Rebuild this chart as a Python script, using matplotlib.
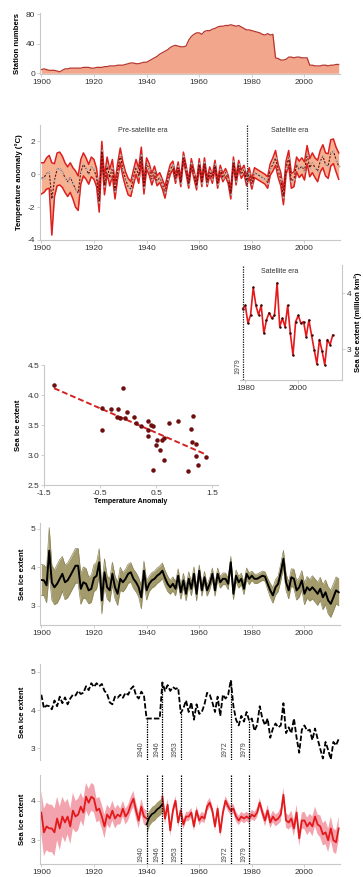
import numpy as np
import matplotlib
matplotlib.use("Agg")
import matplotlib.pyplot as plt

plt.rcParams['font.family'] = ['Liberation Sans', 'DejaVu Sans']
plt.rcParams['axes.unicode_minus'] = False

# %% data
years = np.arange(1900, 2014)

station_counts = [
    5, 6, 5, 4, 4, 4, 3, 2, 4, 6,
    6, 7, 7, 7, 7, 7, 8, 8, 8, 7,
    7, 8, 8, 8, 9, 9, 10, 10, 10, 11,
    11, 11, 12, 13, 14, 14, 13, 13, 14, 15,
    15, 17, 19, 21, 23, 26, 28, 30, 32, 35,
    37, 38, 37, 36, 36, 37, 45, 50, 53, 55,
    55, 53, 57, 58, 58, 60, 61, 63, 64, 64,
    65, 65, 66, 65, 64, 65, 63, 61, 59, 59,
    58, 57, 56, 55, 53, 52, 54, 52, 53, 21,
    20, 18, 18, 19, 22, 22, 21, 22, 22, 21,
    21, 21, 11, 11, 10, 10, 10, 11, 11, 10,
    11, 11, 12, 12]

temp_mean = [
    -0.25, -0.2, 0.05, 0.15, -1.5, -0.35, 0.3, 0.35, 0.15, -0.2,
    -0.45, -0.2, -0.55, -0.9, -1.15, 0.15, 0.6, 0.35, 0.0, 0.45,
    0.3, -0.2, -1.7, 1.5, -0.7, 0.55, -0.2, 0.4, -1.0, 0.2,
    1.15, 0.3, -0.3, -0.75, -0.9, -0.2, 0.45, -0.1, 1.2, -0.8,
    0.65, 0.3, -0.3, 0.2, -0.4, -0.2, -0.6, -1.1, -0.3, 0.3,
    0.55, -0.3, 0.5, -0.5, 1.1, 0.3, -0.6, 0.7, 0.0, -0.7,
    0.7, -0.5, 0.75, -0.5, 0.2, -0.3, 0.6, -0.6, 0.3, -0.2,
    0.1, -0.3, -1.2, 0.8, -0.4, 0.6, 0.0, 0.3, -0.4, 0.1,
    -0.6, 0.1, 0.0, -0.1, -0.2, -0.3, -0.5, 0.3, 0.6, 1.0,
    0.2, -0.3, -1.4, 0.4, 1.0, -0.4, -0.3, 0.6, 0.3, 0.5,
    0.2, 1.2, 0.4, 0.7, 0.4, 0.2, 0.8, 1.1, 0.6, 0.5,
    1.3, 1.4, 0.9, 0.5]

temp_sd = [
    0.95, 0.9, 0.95, 1.0, 2.2, 1.0, 1.0, 1.0, 0.95, 0.9,
    0.9, 0.9, 0.95, 1.1, 1.05, 0.75, 0.7, 0.65, 0.6, 0.6,
    0.6, 0.55, 0.6, 0.5, 0.55, 0.5, 0.5, 0.5, 0.5, 0.45,
    0.45, 0.45, 0.45, 0.5, 0.45, 0.45, 0.45, 0.45, 0.45, 0.4,
    0.35, 0.35, 0.35, 0.3, 0.3, 0.3, 0.3, 0.35, 0.3, 0.3,
    0.25, 0.25, 0.25, 0.25, 0.25, 0.25, 0.25, 0.25, 0.25, 0.25,
    0.25, 0.25, 0.25, 0.25, 0.25, 0.25, 0.25, 0.25, 0.25, 0.25,
    0.25, 0.25, 0.3, 0.25, 0.25, 0.25, 0.25, 0.25, 0.3, 0.3,
    0.3, 0.3, 0.3, 0.3, 0.3, 0.3, 0.35, 0.35, 0.4, 0.45,
    0.4, 0.4, 0.45, 0.4, 0.45, 0.45, 0.45, 0.45, 0.5, 0.5,
    0.55, 0.55, 0.55, 0.6, 0.6, 0.65, 0.65, 0.7, 0.7, 0.75,
    0.8, 0.75, 0.75, 0.8]

# satellite era sea ice extent 1979-2013
sat_years = np.arange(1979, 2014)
sat_extent = [
    3.72, 3.78, 3.46, 3.61, 4.10, 3.78, 3.61, 3.78, 3.28, 3.52,
    3.65, 3.55, 3.60, 4.18, 3.40, 3.55, 3.40, 3.78, 3.28, 2.89,
    3.49, 3.60, 3.46, 3.49, 3.22, 3.52, 3.25, 2.99, 2.74, 3.17,
    2.96, 2.72, 3.17, 3.08, 3.25]

scatter_temp = [-1.32, -0.09, -0.47, -0.30, -0.18, -0.03, -0.46, -0.14, -0.06, 0.11,
                0.14, 0.23, 0.36, 0.45, 0.35, 0.36, 0.49, 0.52, 0.57, 0.61,
                0.64, 0.63, 0.44, 0.73, 0.89, 1.12, 1.15, 1.14, 1.20, 1.20,
                1.24, 1.06, 1.39, -0.20, 0.40]
scatter_ice = [4.17, 4.11, 3.78, 3.77, 3.77, 3.72, 3.41, 3.61, 3.61, 3.63,
               3.54, 3.48, 3.56, 3.48, 3.42, 3.31, 3.17, 3.25, 3.09, 3.25,
               3.28, 2.92, 2.75, 3.53, 3.56, 3.43, 3.65, 3.22, 3.18, 2.99,
               2.83, 2.73, 2.97, 3.64, 3.50]

ice_recon = [
    3.67, 3.66, 3.53, 4.43, 3.60, 3.48, 3.57, 3.70, 3.83, 3.61,
    3.66, 3.78, 3.91, 4.04, 4.04, 3.44, 3.61, 3.57, 3.40, 3.44,
    3.72, 3.78, 4.13, 3.14, 3.87, 3.48, 3.40, 3.83, 3.48, 3.31,
    3.70, 3.61, 3.70, 3.83, 3.87, 3.70, 3.61, 3.48, 3.22, 3.91,
    3.40, 3.57, 3.66, 3.70, 3.78, 3.83, 3.91, 3.72, 3.57, 3.48,
    3.57, 3.44, 3.78, 3.35, 3.66, 3.31, 3.70, 3.44, 3.83, 3.31,
    3.91, 3.40, 3.74, 3.40, 3.57, 3.83, 3.40, 3.83, 3.61, 3.70,
    3.70, 3.57, 4.13, 3.31, 3.78, 3.61, 3.70, 3.44, 3.83, 3.70,
    3.78, 3.70, 3.70, 3.74, 3.78, 3.76, 3.57, 3.40, 3.27, 3.48,
    3.57, 3.87, 4.22, 3.61, 3.40, 3.74, 3.70, 3.40, 3.48, 3.66,
    3.31, 3.48, 3.40, 3.48, 3.40, 3.31, 3.44, 3.22, 3.35, 3.14,
    3.05, 3.22, 3.40, 3.35]

ice_recon_sd = [
    0.4, 0.4, 0.45, 0.6, 0.45, 0.45, 0.5, 0.5, 0.45, 0.45,
    0.45, 0.45, 0.45, 0.45, 0.45, 0.4, 0.4, 0.4, 0.35, 0.35,
    0.35, 0.35, 0.35, 0.35, 0.35, 0.3, 0.3, 0.3, 0.3, 0.3,
    0.3, 0.25, 0.25, 0.25, 0.25, 0.25, 0.25, 0.25, 0.3, 0.25,
    0.25, 0.2, 0.2, 0.2, 0.2, 0.2, 0.2, 0.2, 0.2, 0.18,
    0.18, 0.18, 0.18, 0.18, 0.18, 0.18, 0.18, 0.18, 0.18, 0.18,
    0.15, 0.15, 0.15, 0.15, 0.15, 0.15, 0.15, 0.15, 0.15, 0.15,
    0.15, 0.15, 0.15, 0.15, 0.15, 0.15, 0.15, 0.15, 0.15, 0.15,
    0.12, 0.12, 0.12, 0.12, 0.12, 0.12, 0.15, 0.18, 0.2, 0.2,
    0.2, 0.22, 0.22, 0.22, 0.22, 0.22, 0.25, 0.25, 0.25, 0.25,
    0.28, 0.28, 0.28, 0.3, 0.3, 0.3, 0.3, 0.32, 0.32, 0.35,
    0.35, 0.35, 0.35, 0.35]

# historical compilation 1900-1978, satellite values after that
pre_sat_extent = [
    4.40, 4.05, 4.12, 4.10, 4.02, 4.25, 4.10, 4.35, 4.18, 4.33,
    4.15, 4.30, 4.40, 4.38, 4.50, 4.42, 4.45, 4.62, 4.52, 4.70,
    4.60, 4.70, 4.62, 4.68, 4.50, 4.42, 4.20, 4.15, 4.35, 4.32,
    4.40, 4.32, 4.45, 4.40, 4.55, 4.62, 4.38, 4.30, 4.48, 4.38,
    3.78, 3.78, 3.78, 3.78, 3.78, 3.78, 4.72, 4.50, 4.65, 4.50,
    4.60, 4.55, 4.58, 3.92, 4.05, 4.25, 3.95, 4.20, 3.75, 4.15,
    3.90, 3.95, 4.15, 4.45, 4.40, 4.20, 3.95, 4.35, 3.85, 4.40,
    4.30, 4.40, 4.78, 4.10, 3.75, 3.60, 3.85, 3.70, 3.95]
hist_extent = pre_sat_extent + sat_extent
event_years = [1940, 1946, 1953, 1972, 1979]

nan = np.nan
ice_model = [
    3.70, 3.20, 3.35, 3.30, 3.30, 3.20, 3.55, 3.30, 3.60, 3.45,
    3.60, 3.35, 3.75, 3.60, 3.65, 3.85, 3.70, 4.10, 3.95, 4.10,
    4.05, 3.75, 3.80, 3.60, 3.35, 3.65, 3.55, 3.75, 3.55, 3.65,
    3.60, 3.80, 3.60, 3.70, 3.90, 4.05, 3.75, 3.50, 3.85, 3.60,
    3.55, nan, nan, nan, nan, nan, 4.10, 3.55, 3.90, 3.25,
    3.75, 4.00, 3.45, 3.75, 3.40, 3.60, 3.60, 3.70, 3.35, 3.75,
    3.50, 3.60, 3.55, 3.85, 3.95, 3.75, 3.35, 3.80, 3.20, 3.70,
    4.00, 3.85, 3.75, 3.80, 3.60, 3.50, 3.60, 3.55, 3.60, 3.55,
    3.65, 3.60, 3.70, 3.95, 3.70, 3.50, 3.75, 3.45, 3.60, 3.50,
    3.55, 3.65, 4.15, 3.50, 3.45, 3.55, 3.30, 3.70, 3.05, 3.50,
    3.50, 3.35, 3.45, 3.35, 3.60, 3.40, 3.35, 3.15, 3.20, 3.00,
    3.30, 3.00, 2.95, 3.30]

ice_model_sd = [
    0.55, 0.6, 0.6, 0.6, 0.6, 0.6, 0.55, 0.55, 0.5, 0.5,
    0.45, 0.45, 0.45, 0.4, 0.4, 0.35, 0.35, 0.35, 0.35, 0.35,
    0.35, 0.3, 0.3, 0.3, 0.3, 0.25, 0.25, 0.25, 0.25, 0.25,
    0.2, 0.2, 0.2, 0.2, 0.2, 0.2, 0.2, 0.2, 0.2, 0.2,
    0.2, nan, nan, nan, nan, nan, 0.15, 0.15, 0.15, 0.15,
    0.12, 0.12, 0.12, 0.12, 0.12, 0.12, 0.12, 0.12, 0.12, 0.12,
    0.12, 0.12, 0.12, 0.12, 0.12, 0.12, 0.12, 0.12, 0.12, 0.12,
    0.12, 0.12, 0.12, 0.12, 0.12, 0.12, 0.12, 0.12, 0.12, 0.12,
    0.12, 0.12, 0.12, 0.12, 0.12, 0.15, 0.15, 0.15, 0.15, 0.15,
    0.15, 0.18, 0.18, 0.18, 0.18, 0.2, 0.2, 0.2, 0.2, 0.2,
    0.22, 0.22, 0.22, 0.25, 0.25, 0.25, 0.28, 0.28, 0.3, 0.3,
    0.3, 0.3, 0.3, 0.3]

# %% figure
W, H = 363, 877
fig = plt.figure(figsize=(W / 100, H / 100), dpi=100)
GRID = '#c8c8c8'
OLIVE = '#a39b6c'


def add_ax(left, top, right, bottom):
    # box given in pixels from the top-left corner
    return fig.add_axes([left / W, 1 - bottom / H, (right - left) / W, (bottom - top) / H])


def style(ax, xlabels=True):
    for s in ['top', 'right']:
        ax.spines[s].set_visible(False)
    for s in ['left', 'bottom']:
        ax.spines[s].set_color(GRID)
        ax.spines[s].set_linewidth(0.8)
    ax.tick_params(colors=GRID, labelcolor='#333333', labelsize=6,
                   length=2, width=0.6, pad=1.5)
    ax.set_xlim(1899.5, 2013.5)
    ax.set_xticks(range(1900, 2001, 20))
    if not xlabels:
        ax.spines['bottom'].set_visible(False)
        ax.tick_params(axis='x', bottom=False, labelbottom=False)


def ylab(ax, text, x=-0.063):
    ax.set_ylabel(text, fontsize=5.6, fontweight='bold', labelpad=2)
    ax.yaxis.set_label_coords(x, 0.5)


t = np.array(temp_mean)
tsd = np.array(temp_sd)
rec = np.array(ice_recon)
rsd = np.array(ice_recon_sd)
mod = np.array(ice_model)
msd = np.array(ice_model_sd)

# 1. station numbers
ax1 = add_ax(40, 13, 340, 74)
style(ax1)
ax1.fill_between(years, station_counts, color='#f2a68c', lw=0)
ax1.plot(years, station_counts, color='#b8352c', lw=0.9)
ax1.set_ylim(-1, 82)
ax1.set_yticks([0, 40, 80])
ylab(ax1, 'Station numbers')

# 2. temperature anomaly
ax2 = add_ax(40, 125, 340, 240)
style(ax2)
ax2.fill_between(years, t - tsd, t + tsd, color='#f7b190', lw=0)
ax2.plot(years, t - tsd, color='#dc1f1f', lw=1.1)
ax2.plot(years, t + tsd, color='#dc1f1f', lw=1.1)
ax2.plot(years, t, color='#5a1212', lw=0.8, ls=(0, (2, 1.2)),
         marker='o', ms=1.6, mfc='#b8b8b8', mec='none')
ax2.vlines(1978, -2.1, 3, color='#333333', lw=0.9, ls=(0, (1.2, 0.8)))
ax2.set_ylim(-4, 3)
ax2.set_yticks([-4, -2, 0, 2])
ax2.text(1938.5, 2.65, 'Pre-satellite era', fontsize=5, color='#333333', ha='center', va='center')
ax2.text(1994.5, 2.65, 'Satellite era', fontsize=5, color='#333333', ha='center', va='center')
ylab(ax2, 'Temperature anomaly (°C)', x=-0.057)

# 3. satellite era inset
ax3 = add_ax(240, 265, 342, 380)
for s in ['top', 'left']:
    ax3.spines[s].set_visible(False)
for s in ['right', 'bottom']:
    ax3.spines[s].set_color(GRID)
    ax3.spines[s].set_linewidth(0.8)
ax3.yaxis.tick_right()
ax3.yaxis.set_label_position('right')
ax3.tick_params(colors=GRID, labelcolor='#333333', labelsize=6, length=2, width=0.6, pad=1.5)
ax3.plot(sat_years, sat_extent, color='#e3191c', lw=1.2,
         marker='o', ms=1.8, mfc='#3a0808', mec='none')
ax3.axvline(1979, color='#333333', lw=0.9, ls=(0, (1.2, 0.8)))
ax3.set_xlim(1978, 2016.5)
ax3.set_ylim(2.45, 4.5)
ax3.set_xticks([1980, 2000])
ax3.set_yticks([3, 4])
ax3.text(1979 - 0.6, 2.55, '1979', rotation=90, fontsize=5, color='#444444', ha='right', va='bottom')
ax3.text(1993, 4.38, 'Satellite era', fontsize=5, color='#333333', ha='center', va='center')
ax3.set_ylabel('Sea ice extent (million km²)', fontsize=5.6, fontweight='bold', labelpad=2)

# 4. scatter: sea ice vs temperature
ax4 = add_ax(44, 365, 218, 485)
for s in ['top', 'right']:
    ax4.spines[s].set_visible(False)
for s in ['left', 'bottom']:
    ax4.spines[s].set_color(GRID)
    ax4.spines[s].set_linewidth(0.8)
ax4.tick_params(colors=GRID, labelcolor='#333333', labelsize=6, length=2, width=0.6, pad=1.5)
ax4.scatter(scatter_temp, scatter_ice, s=5, color='#6e0e0e', zorder=3)
slope, icpt = np.polyfit(scatter_temp, scatter_ice, 1)
fx = np.array([min(scatter_temp), max(scatter_temp)])
ax4.plot(fx, slope * fx + icpt, color='#d42222', lw=1.4, ls=(0, (3, 1.5)))
ax4.set_xlim(-1.5, 1.6)
ax4.set_ylim(2.5, 4.5)
ax4.set_xticks([-1.5, -0.5, 0.5, 1.5])
ax4.set_yticks([2.5, 3.0, 3.5, 4.0, 4.5])
ax4.set_xlabel('Temperature Anomaly', fontsize=5, fontweight='bold', labelpad=1)
ax4.set_ylabel('Sea ice extent', fontsize=5.6, fontweight='bold', labelpad=2)
ax4.yaxis.set_label_coords(-0.125, 0.5)

# 5. reconstructed sea ice
ax5 = add_ax(40, 523, 340, 625)
style(ax5)
ax5.fill_between(years, rec - rsd, rec + rsd, color=OLIVE, lw=0)
ax5.plot(years, rec - rsd, color='#8a8358', lw=0.5)
ax5.plot(years, rec + rsd, color='#8a8358', lw=0.5)
ax5.plot(years, rec, color='black', lw=1.4)
ax5.set_ylim(2.5, 5.15)
ax5.set_yticks([3, 4, 5])
ylab(ax5, 'Sea ice extent', x=-0.045)

# 6. historical compilation
ax6 = add_ax(40, 664, 340, 760)
style(ax6, xlabels=False)
ax6.plot(years, hist_extent, color='black', lw=1.3, ls=(0, (3, 1.2)))
ax6.set_ylim(2.7, 5.2)
ax6.set_yticks([3, 4, 5])
for yr in event_years:
    ax6.vlines(yr, 2.7, hist_extent[yr - 1900], color='black', lw=0.9, ls=(0, (1.2, 0.8)))
    ax6.text(yr - 0.7, 2.78, str(yr), rotation=90, fontsize=5, color='#444444', ha='right', va='bottom')
ylab(ax6, 'Sea ice extent', x=-0.045)

# 7. model with reconstruction gap
ax7 = add_ax(40, 775, 340, 864)
style(ax7)
ax7.fill_between(years, mod - msd, mod + msd, color='#f3a3ad', lw=0)
ax7.plot(years, mod, color='#e3191c', lw=1.3)
gap = (years >= 1940) & (years <= 1946)
ax7.fill_between(years[gap], rec[gap] - rsd[gap], rec[gap] + rsd[gap], color=OLIVE, lw=0)
ax7.plot(years[gap], rec[gap], color='black', lw=1.2)
for yr in event_years:
    ax7.axvline(yr, color='black', lw=0.9, ls=(0, (1.2, 0.8)))
    ax7.text(yr - 0.7, 2.45, str(yr), rotation=90, fontsize=5, color='#444444', ha='right', va='bottom')
ax7.set_ylim(2.4, 4.65)
ax7.set_yticks([3, 4])
ylab(ax7, 'Sea ice extent', x=-0.045)

fig.savefig('out.png', dpi=100)
